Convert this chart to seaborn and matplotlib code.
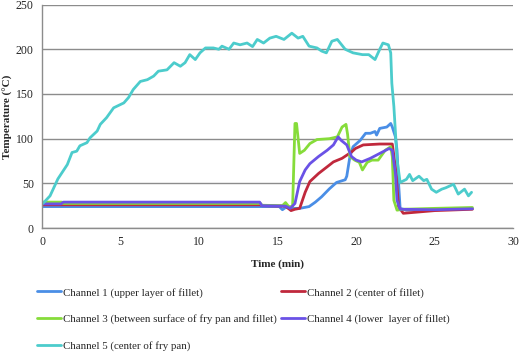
import matplotlib
matplotlib.use('Agg')
from matplotlib import pyplot as plt
import seaborn as sns
import pandas as pd

# readings per channel (time in min, temperature in deg C)
t1 = [0, 13.9, 14.0, 15.1, 15.3, 15.5, 16.0, 16.4, 17.0, 17.4, 17.8, 18.3, 18.75, 19.3, 19.4, 19.6, 19.8,
      20.25, 20.6, 20.9, 21.2, 21.3, 21.5, 21.95, 22.2, 22.3, 22.5, 22.6, 22.7, 22.8, 23.2, 25.0, 27.4]
temp1 = [24, 24, 24, 24, 20.5, 23, 22, 22, 24, 29, 35, 44, 51, 54, 58, 80, 91,
         98, 106, 106, 108, 104, 111.5, 113, 117, 113, 102, 87, 50, 22, 20, 21, 22]

t2 = [0, 13.9, 14.0, 15.5, 15.85, 16.1, 16.4, 16.75, 17.05, 17.6, 18.15, 18.55, 19.1, 19.4, 19.7,
      19.95, 20.45, 21.5, 22.3, 22.5, 22.7, 23.0, 24.0, 25.0, 27.4]
temp2 = [26, 26, 25, 24.5, 19.5, 21, 22, 40, 52, 61, 68.5, 74, 78, 81.5, 85,
         89, 93, 94, 94, 68, 24, 16.5, 18, 19.5, 21]

t3 = [0, 1.25, 1.3, 13.9, 14.0, 15.3, 15.5, 15.7, 15.95, 16.1, 16.2, 16.4, 16.7, 17.05, 17.5, 18.3,
      18.8, 19.1, 19.35, 19.45, 19.6, 19.9, 20.2, 20.4, 20.7, 21.0, 21.4, 21.85, 22.2, 22.3, 22.4,
      22.6, 23.0, 25.0, 27.4]
temp3 = [29, 29, 27.5, 27.5, 25.5, 25, 28.5, 24, 24, 117, 117, 83.5, 87, 94.5, 99, 100,
         102, 113, 116, 105, 80, 76, 73.5, 65, 73.5, 76, 76, 87, 91, 80, 31,
         20, 21, 22, 23]

t4 = [0, 1.2, 1.35, 13.85, 14.0, 15.5, 15.8, 16.1, 16.4, 16.75, 17.05, 17.6, 18.15, 18.55, 18.85,
      19.05, 19.4, 19.7, 20.0, 20.35, 20.9, 21.5, 22.1, 22.3, 22.5, 22.6, 22.8, 25.0, 27.4]
temp4 = [27, 27, 29, 29, 25, 24.5, 22, 27.5, 52, 65, 72, 80, 87, 93, 102,
         98, 93, 80, 76, 74, 78, 83.5, 89, 87, 61, 31, 21, 20.5, 21.5]

t5 = [0, 0.1, 0.5, 1.0, 1.6, 1.9, 2.2, 2.4, 2.85, 3.05, 3.5, 3.7, 4.1, 4.55, 5.2, 5.5, 5.8, 6.25,
      6.7, 7.1, 7.4, 7.95, 8.4, 8.8, 9.1, 9.4, 9.75, 10.05, 10.4, 10.9, 11.25, 11.45, 11.9, 12.2,
      12.6, 13.05, 13.4, 13.7, 14.1, 14.5, 14.9, 15.4, 15.9, 16.3, 16.6, 17.0, 17.5, 17.8, 18.1,
      18.45, 18.8, 19.3, 19.8, 20.4, 20.8, 21.2, 21.5, 21.7, 22.05, 22.2, 22.27, 22.4, 22.5, 22.6,
      22.8, 23.2, 23.4, 23.6, 24.0, 24.3, 24.5, 24.8, 25.1, 25.45, 25.7, 26.2, 26.5, 26.9, 27.15, 27.35]
temp5 = [27, 28.5, 36, 55, 71, 84.5, 86, 92, 95.5, 101, 108.5, 116, 123.5, 134.5, 140, 146, 155, 164,
         166, 170, 175.5, 177, 185, 181, 185, 194, 188.5, 196, 201.5, 201.5, 200, 203.5, 200, 207,
         205, 207, 203, 211, 207, 212.5, 214.5, 211, 218, 212.5, 214.5, 203.5, 201.5, 198, 196,
         209, 211, 200, 196, 194, 194, 188.5, 200, 207, 205, 196, 162, 136, 107, 77,
         51, 54.5, 60, 53, 58, 53, 54.5, 43.5, 40, 43.5, 45, 49, 38, 43.5, 36, 40]

labels = ['Channel 1 (upper layer of fillet)', 'Channel 2 (center of fillet)',
          'Channel 3 (between surface of fry pan and fillet)', 'Channel 4 (lower  layer of fillet)',
          'Channel 5 (center of fry pan)']
colors = ['#4a8ee6', '#c0283c', '#86dc3a', '#6a52e6', '#4ccccc']

series = [(t1, temp1), (t2, temp2), (t3, temp3), (t4, temp4), (t5, temp5)]

sns.set_style('white')
plt.rcParams['font.family'] = ['Liberation Serif', 'DejaVu Serif']

fig = plt.figure(figsize=(5.21, 3.53), dpi=100)
ax = fig.add_axes([0.081, 0.354, 0.904, 0.633])

for (t, v), lab, c in zip(series, labels, colors):
    df = pd.DataFrame({'Time': t, 'Temp': v})
    sns.lineplot(data=df, x='Time', y='Temp', ax=ax, color=c, lw=2, label=lab,
                 sort=False, estimator=None)

ax.set_xlim(0, 30)
ax.set_ylim(0, 250)
ax.set_xticks(range(0, 31, 5))
ax.set_yticks(range(0, 251, 50))
ax.yaxis.grid(True, color='#8c8c8c', lw=1)
ax.set_axisbelow(True)
for s in ['top', 'right']:
    ax.spines[s].set_visible(False)
for s in ['left', 'bottom']:
    ax.spines[s].set_color('#8c8c8c')
    ax.spines[s].set_linewidth(1)
ax.tick_params(axis='both', direction='out', length=4, color='#8c8c8c', labelsize=8.5, pad=2)
ax.set_xlabel('Time (min)', fontsize=8, fontweight='bold', labelpad=8)
ax.set_ylabel('Temperature (°C)', fontsize=8, fontweight='bold')
ax.yaxis.set_label_coords(-0.061, 0.5)

h, l = ax.get_legend_handles_labels()
ax.get_legend().remove()
order = [0, 2, 4, 1, 3]
fig.legend([h[i] for i in order], [l[i] for i in order], ncol=2, loc='upper left',
           bbox_to_anchor=(0.053, 0.213), frameon=False, fontsize=7.8, handlelength=2.2,
           handletextpad=0.15, columnspacing=0.45, labelspacing=1.55)

fig.savefig('out.png', dpi=100)
